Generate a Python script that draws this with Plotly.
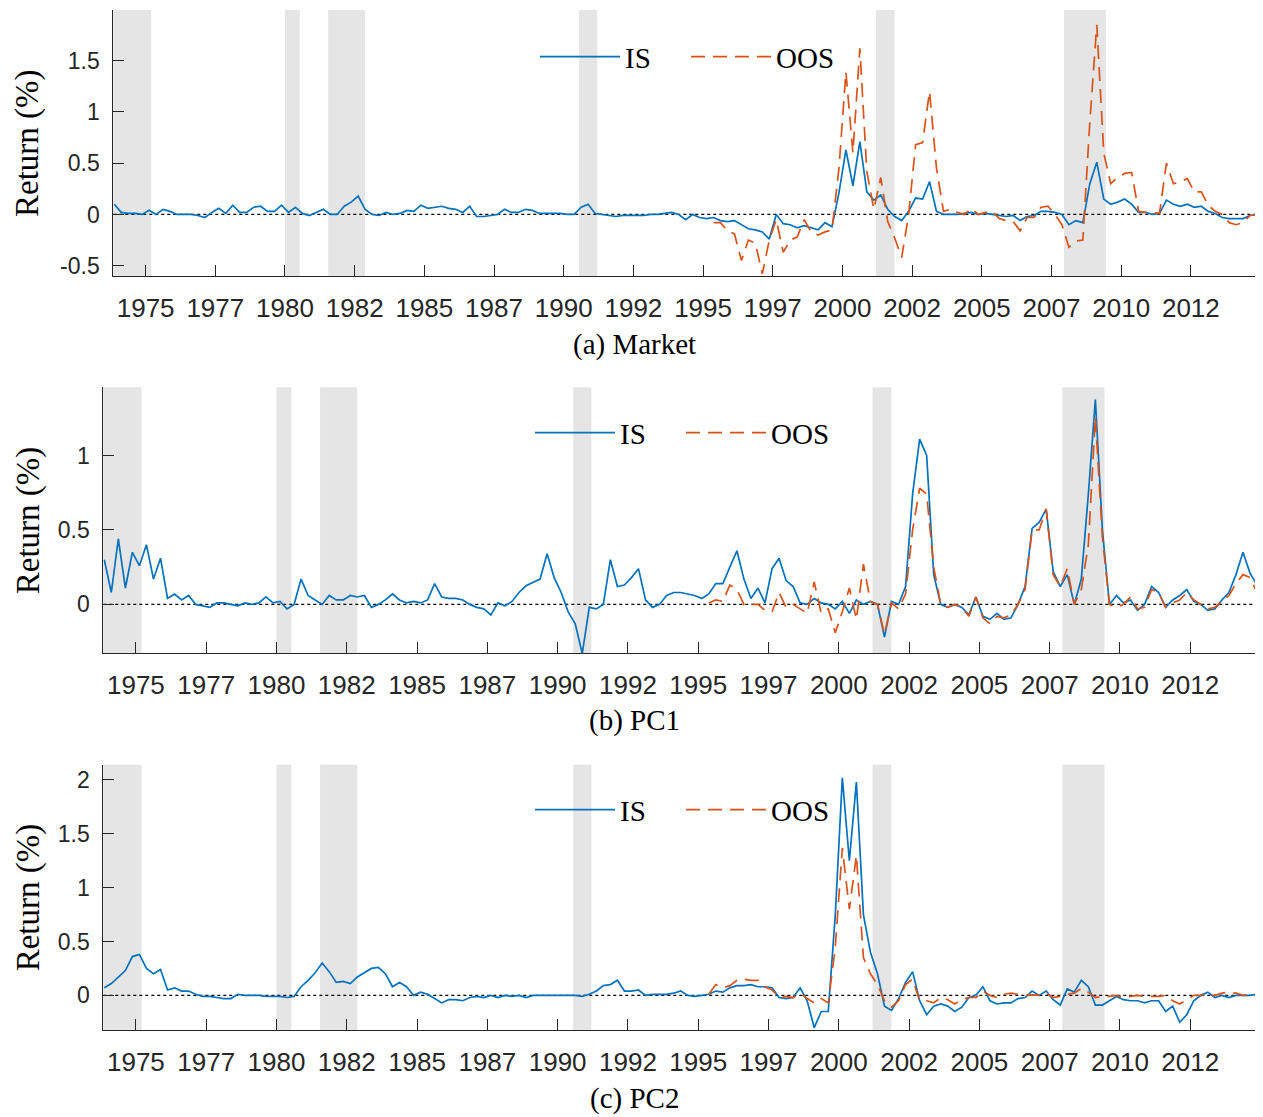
import numpy as np
import plotly.graph_objects as go

# ---------------- data ----------------
# quarterly sampling grid (decimal years)
T_START = 1973.875
OOS_START = 1995.375
T_STEP = 0.25

MARKET_IS = [
    0.10, 0.02, 0.01, 0.01, 0.00, 0.04, 0.00, 0.05, 0.03, 0.00,
    0.00, 0.00, -0.01, -0.03, 0.02, 0.06, 0.01, 0.09, 0.02, 0.02,
    0.07, 0.08, 0.03, 0.03, 0.09, 0.02, 0.07, 0.01, -0.01, 0.02,
    0.05, 0.00, 0.00, 0.08, 0.12, 0.18, 0.05, 0.00, -0.01, 0.02,
    0.00, 0.01, 0.04, 0.03, 0.09, 0.06, 0.07, 0.08, 0.06, 0.05,
    0.02, 0.08, -0.02, -0.02, -0.01, 0.00,
    0.05, 0.02, 0.02, 0.05, 0.04, 0.01, 0.01, 0.01, 0.01, 0.00,
    0.00, 0.07, 0.10, 0.01, 0.00, -0.01, -0.02, -0.01, -0.01, -0.01,
    -0.01, 0.00, 0.00, 0.01, 0.02, 0.00, -0.05, 0.00, -0.03, -0.04,
    -0.03, -0.06, -0.07, -0.06, -0.10, -0.14, -0.15, -0.17, -0.24, 0.00,
    -0.09, -0.10, -0.13, -0.11, -0.13, -0.15, -0.08, -0.12, 0.21, 0.63,
    0.28, 0.71, 0.22, 0.14, 0.19, 0.05,
    -0.02, -0.06, 0.03, 0.16, 0.15, 0.32, 0.03, 0.00, 0.00, 0.00,
    0.01, 0.02, 0.00, 0.01, 0.00, -0.01, -0.02, -0.01, -0.06, -0.02,
    -0.01, 0.03, 0.03, 0.02, 0.00, -0.10, -0.06, -0.08, 0.30, 0.51,
    0.15, 0.10, 0.12, 0.15, 0.10, 0.02, 0.02, 0.00, 0.01, 0.14,
    0.10, 0.08, 0.10, 0.07, 0.08, 0.03, 0.01, -0.03, -0.04, -0.04,
    -0.04, -0.01, 0.00,
]
MARKET_OOS = [
    -0.08, -0.08, -0.16, -0.19, -0.45, -0.25, -0.28, -0.58, -0.25, -0.05,
    -0.37, -0.25, -0.22, -0.05, -0.17, -0.20, -0.17, -0.15, 0.45, 1.39,
    0.60, 1.62, 0.42, 0.05, 0.36, -0.07,
    -0.23, -0.42, 0.00, 0.68, 0.70, 1.20, 0.45, 0.03, 0.05, 0.02,
    0.00, 0.06, 0.00, 0.02, 0.03, -0.04, -0.06, -0.07, -0.16, -0.03,
    -0.03, 0.07, 0.08, 0.00, -0.10, -0.32, -0.26, -0.25, 0.90, 1.85,
    0.60, 0.30, 0.36, 0.40, 0.41, 0.03, 0.02, 0.02, 0.01, 0.50,
    0.30, 0.32, 0.35, 0.22, 0.22, 0.09, 0.03, 0.00, -0.08, -0.10,
    -0.08, -0.01, 0.00,
]
PC1_IS = [
    0.30, 0.08, 0.44, 0.11, 0.35, 0.26, 0.40, 0.17, 0.31, 0.04,
    0.07, 0.03, 0.06, 0.00, -0.01, -0.02, 0.01, 0.01, 0.00, -0.01,
    0.01, 0.00, 0.01, 0.05, 0.01, 0.02, -0.03, 0.00, 0.17, 0.06,
    0.03, 0.00, 0.06, 0.03, 0.03, 0.06, 0.05, 0.06, -0.02, 0.00,
    0.03, 0.07, 0.03, 0.01, 0.02, 0.01, 0.03, 0.14, 0.05, 0.04,
    0.04, 0.03, 0.00, -0.02, -0.03, -0.07,
    0.01, -0.01, 0.02, 0.08, 0.125, 0.15, 0.17, 0.34, 0.18, 0.08,
    -0.05, -0.13, -0.33, -0.02, -0.03, 0.00, 0.30, 0.12, 0.13, 0.18,
    0.24, 0.03, -0.02, 0.00, 0.06, 0.08, 0.08, 0.07, 0.06, 0.04,
    0.07, 0.14, 0.14, 0.25, 0.36, 0.17, 0.04, 0.11, 0.01, 0.24,
    0.31, 0.16, 0.12, 0.01, 0.00, 0.04, 0.01, 0.00, -0.03, 0.02,
    -0.06, 0.03, 0.00, 0.02, 0.00, -0.22,
    0.02, 0.00, 0.12, 0.74, 1.11, 1.00, 0.20, 0.00, -0.02, 0.00,
    -0.02, -0.07, 0.05, -0.08, -0.10, -0.06, -0.10, -0.09, 0.00, 0.12,
    0.51, 0.55, 0.64, 0.22, 0.12, 0.20, 0.00, 0.17, 0.74, 1.375,
    0.50, 0.00, 0.06, 0.01, 0.03, -0.04, 0.00, 0.12, 0.08, -0.02,
    0.03, 0.06, 0.10, 0.02, 0.00, -0.04, -0.03, 0.03, 0.08, 0.20,
    0.35, 0.21, 0.13,
]
PC1_OOS = [
    0.01, 0.03, 0.02, 0.13, 0.10, 0.00, 0.00, 0.00, -0.04, -0.05,
    0.08, -0.02, 0.00, -0.03, -0.06, 0.15, -0.06, -0.03, -0.19, -0.05,
    0.11, -0.10, 0.27, 0.02, 0.00, -0.20,
    0.01, -0.03, 0.07, 0.50, 0.78, 0.74, 0.25, 0.00, -0.02, 0.00,
    -0.02, -0.08, 0.05, -0.09, -0.13, -0.08, -0.09, -0.07, 0.00, 0.10,
    0.50, 0.50, 0.64, 0.20, 0.12, 0.24, 0.00, 0.10, 0.40, 1.26,
    0.45, 0.00, -0.02, 0.00, 0.05, -0.03, -0.02, 0.10, 0.08, -0.02,
    0.01, 0.03, 0.08, 0.03, 0.00, -0.03, -0.02, 0.02, 0.06, 0.14,
    0.20, 0.18, 0.08,
]
PC2_IS = [
    0.07, 0.11, 0.17, 0.23, 0.36, 0.38, 0.25, 0.20, 0.24, 0.05,
    0.07, 0.04, 0.04, 0.01, -0.01, -0.01, -0.02, -0.03, -0.03, 0.01,
    0.00, 0.00, 0.00, -0.01, -0.01, -0.01, -0.02, -0.01, 0.08, 0.14,
    0.21, 0.30, 0.22, 0.12, 0.13, 0.11, 0.17, 0.21, 0.25, 0.26,
    0.20, 0.08, 0.12, 0.08, 0.00, 0.03, 0.01, -0.03, -0.07, -0.04,
    -0.04, -0.05, -0.02, -0.01, -0.02, 0.00,
    -0.02, 0.00, -0.01, 0.00, -0.02, 0.00, 0.00, 0.00, 0.00, 0.00,
    0.00, 0.00, -0.01, 0.01, 0.04, 0.09, 0.10, 0.14, 0.04, 0.04,
    0.05, 0.00, 0.01, 0.01, 0.01, 0.02, 0.04, 0.00, -0.01, 0.00,
    0.01, 0.04, 0.03, 0.07, 0.09, 0.09, 0.10, 0.08, 0.08, 0.07,
    -0.02, -0.03, -0.02, 0.07, -0.05, -0.30, -0.15, -0.15, 0.75, 2.02,
    1.25, 1.98, 0.75, 0.40, 0.20, -0.10,
    -0.14, -0.03, 0.12, 0.22, -0.05, -0.18, -0.10, -0.08, -0.10, -0.15,
    -0.11, -0.02, 0.00, 0.08, -0.05, -0.08, -0.07, -0.07, -0.03, -0.02,
    0.04, 0.00, 0.04, -0.04, -0.09, 0.06, 0.03, 0.14, 0.08, -0.09,
    -0.09, -0.05, -0.01, -0.04, -0.05, -0.05, -0.07, -0.05, -0.05, -0.15,
    -0.10, -0.25, -0.18, -0.05, 0.00, 0.03, -0.02, 0.00, -0.02, 0.00,
    0.00, 0.00, 0.01,
]
PC2_OOS = [
    0.01, 0.10, 0.07, 0.09, 0.14, 0.15, 0.14, 0.14, 0.08, 0.05,
    -0.02, -0.01, -0.02, 0.02, -0.03, -0.07, -0.03, -0.07, 0.45, 1.37,
    0.80, 1.30, 0.35, 0.20, 0.10, -0.05,
    -0.11, -0.05, 0.10, 0.15, -0.05, -0.05, -0.07, -0.02, -0.04, -0.08,
    -0.04, -0.02, -0.02, 0.04, 0.00, -0.02, 0.01, 0.02, 0.01, 0.00,
    0.005, 0.00, 0.02, -0.02, -0.01, 0.01, 0.02, 0.065, 0.03, -0.02,
    -0.01, -0.01, 0.00, -0.02, -0.01, 0.00, -0.01, -0.01, -0.01, 0.00,
    -0.05, -0.08, -0.04, 0.00, 0.00, 0.00, 0.00, 0.02, 0.03, 0.02,
    0.00, 0.00, -0.01,
]

# NBER recessions (decimal years)
REC_START = [1973.83, 1980.0, 1981.55, 1990.55, 2001.2, 2007.95]
REC_END = [1975.2, 1980.53, 1982.87, 1991.2, 2001.87, 2009.45]

TICK_POS = [1975.0, 1977.5, 1980.0, 1982.5, 1985.0, 1987.5, 1990.0, 1992.5,
            1995.0, 1997.5, 2000.0, 2002.5, 2005.0, 2007.5, 2010.0, 2012.5]
TICK_LABELS = ["1975", "1977", "1980", "1982", "1985", "1987", "1990", "1992",
               "1995", "1997", "2000", "2002", "2005", "2007", "2010", "2012"]

SUBTITLES = ["(a) Market", "(b) PC1", "(c) PC2"]
SERIES_IS = [MARKET_IS, PC1_IS, PC2_IS]
SERIES_OOS = [MARKET_OOS, PC1_OOS, PC2_OOS]
Y_TICKS = [[-0.5, 0, 0.5, 1, 1.5], [0, 0.5, 1], [0, 0.5, 1, 1.5, 2]]
Y_TICKTEXT = [["-0.5", "0", "0.5", "1", "1.5"], ["0", "0.5", "1"],
              ["0", "0.5", "1", "1.5", "2"]]
Y_RANGES = [[-0.60, 1.994], [-0.328, 1.458], [-0.321, 2.142]]
X_RANGE = [1973.84, 2014.92]

for s in SERIES_IS:
    assert len(s) == 165, len(s)
for s in SERIES_OOS:
    assert len(s) == 79, len(s)

t_is = T_START + T_STEP * np.arange(len(MARKET_IS))
t_oos = OOS_START + T_STEP * np.arange(len(MARKET_OOS))

# ---------------- layout (pixel geometry) ----------------
# the page body has an 8px margin, so the figure is drawn 8px smaller
PAGE_OFF = 8
W, H = 1263 - PAGE_OFF, 1117 - PAGE_OFF


def px_x(px):
    return (px - PAGE_OFF) / W


def px_y(py):
    return 1 - (py - PAGE_OFF) / H


BLUE = "#0072BD"
ORANGE = "#D95319"
AX = "#262626"
SERIF = "Liberation Serif"
SANS = "Liberation Sans"

PANEL_GEOM = [  # left, right, top, bottom (page px)
    (113.3, 1258.3, 10.0, 276.7),
    (103.3, 1258.3, 388.3, 655.0),
    (103.3, 1258.3, 766.7, 1032.7),
]
SUB_Y = [345, 722, 1101]
LEG_TEXT_X = [627, 622, 622]
LEG_Y = [57, 434, 812]
LEG_ITEM_W = 80

fig = go.Figure()
layout = dict(
    width=W, height=H,
    margin=dict(l=0, r=0, t=0, b=0),
    paper_bgcolor="white", plot_bgcolor="white",
    showlegend=True,
)
shapes = []
annotations = []

for i in range(3):
    k = "" if i == 0 else str(i + 1)
    xa, ya = "x" + k, "y" + k
    leg = "legend" + k
    left, right, top, bottom = PANEL_GEOM[i]

    fig.add_trace(go.Scatter(
        x=t_is, y=SERIES_IS[i], mode="lines", name="IS",
        line=dict(color=BLUE, width=1.7), xaxis=xa, yaxis=ya, legend=leg))
    fig.add_trace(go.Scatter(
        x=t_oos, y=SERIES_OOS[i], mode="lines", name="OOS",
        line=dict(color=ORANGE, width=1.7, dash="14px,8px"),
        xaxis=xa, yaxis=ya, legend=leg))

    layout["xaxis" + k] = dict(
        domain=[px_x(left), px_x(right)], anchor=ya, range=X_RANGE,
        tickmode="array", tickvals=TICK_POS, ticktext=TICK_LABELS,
        ticks="inside", ticklen=11, tickwidth=1, tickcolor=AX,
        showline=True, linecolor=AX, linewidth=1,
        showgrid=False, zeroline=False,
        tickfont=dict(family=SANS, size=26, color=AX),
        ticklabelstandoff=9,
    )
    layout["yaxis" + k] = dict(
        domain=[px_y(bottom), px_y(top)], anchor=xa, range=Y_RANGES[i],
        tickmode="array", tickvals=Y_TICKS[i], ticktext=Y_TICKTEXT[i],
        ticks="inside", ticklen=11, tickwidth=1, tickcolor=AX,
        showline=True, linecolor=AX, linewidth=1,
        showgrid=False, zeroline=False,
        tickfont=dict(family=SANS, size=23, color=AX),
        ticklabelstandoff=8,
    )
    for r0, r1 in zip(REC_START, REC_END):
        shapes.append(dict(type="rect", xref=xa, yref=ya + " domain",
                           x0=r0, x1=r1, y0=0, y1=1,
                           fillcolor="#e5e5e5", line=dict(width=0),
                           layer="below"))
    shapes.append(dict(type="line", xref=xa + " domain", yref=ya,
                       x0=0, x1=1, y0=0, y1=0,
                       line=dict(color="black", width=1.2, dash="dot"),
                       layer="below"))
    layout[leg] = dict(
        orientation="h", x=px_x(LEG_TEXT_X[i] - LEG_ITEM_W - 12),
        xanchor="left",
        y=px_y(LEG_Y[i]), yanchor="middle",
        bgcolor="rgba(0,0,0,0)", borderwidth=0,
        font=dict(family=SERIF, size=29, color="black"),
        itemwidth=LEG_ITEM_W,
        entrywidth=56, entrywidthmode="pixels",
    )
    annotations.append(dict(
        text=SUBTITLES[i], x=px_x(634), y=px_y(SUB_Y[i]),
        xref="paper", yref="paper", xanchor="center", yanchor="middle",
        showarrow=False, font=dict(family=SERIF, size=29, color="black")))
    annotations.append(dict(
        text="Return (%)", textangle=-90, x=px_x(28),
        y=px_y((top + bottom) / 2),
        xref="paper", yref="paper", xanchor="center", yanchor="middle",
        showarrow=False, font=dict(family=SERIF, size=33, color="black")))

layout["shapes"] = shapes
layout["annotations"] = annotations
fig.update_layout(**layout)
fig.write_html("out.html")
